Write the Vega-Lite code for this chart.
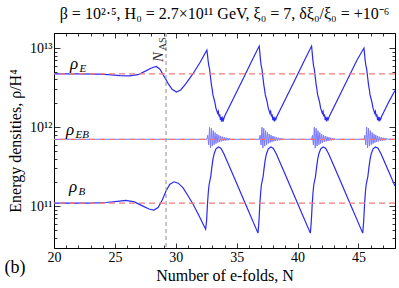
{
"$schema":"https://vega.github.io/schema/vega-lite/v6.json",
"width":341,"height":215,
"autosize":{"type":"none"},
"padding":{"left":54,"top":33,"right":4,"bottom":40},
"config":{"view":{"stroke":"#000","strokeWidth":1},"font":"Liberation Serif",
 "axis":{"domain":false,"grid":false,"tickColor":"#000","tickWidth":0.8,"labelFont":"Liberation Serif","labelFontSize":14,"labelColor":"#000","titleFont":"Liberation Serif","titleFontSize":16,"titleFontWeight":"normal","titleColor":"#000","labelOverlap":false,"labelFlush":false}},
"title":{"text":"β = 10²·⁵,  H₀ = 2.7×10¹¹ GeV,  ξ₀ = 7,  δξ₀/ξ₀ = +10⁻⁶","font":"Liberation Serif","fontSize":16,"fontWeight":"normal","color":"#000","offset":10,"anchor":"middle"},
"resolve":{"axis":{"x":"independent","y":"independent"}},
"datasets":{
"rhoE":[{"N":20,"v":4.7e12},{"N":22,"v":4.7e12},{"N":23.5,"v":4.68e12},{"N":24.5,"v":4.6e12},{"N":25.4,"v":4.48e12},{"N":26.2,"v":4.45e12},{"N":26.9,"v":4.6e12},{"N":27.5,"v":5.1e12},{"N":28.0,"v":5.6e12},{"N":28.4,"v":5.85e12},{"N":28.7,"v":5.4e12},{"N":29.0,"v":4.5e12},{"N":29.4,"v":3.5e12},{"N":29.7,"v":3.0e12},{"N":30.05,"v":2.78e12},{"N":30.4,"v":2.95e12},{"N":30.8,"v":3.5e12},{"N":31.4,"v":4.7e12},{"N":32.0,"v":6.6e12},{"N":32.55,"v":9.4e12},
{"N":32.60,"v":8.3e12},{"N":32.65,"v":7.0e12},{"N":32.71,"v":6.0e12},{"N":32.77,"v":5.5e12},{"N":32.85,"v":4.3e12},{"N":32.93,"v":3.4e12},{"N":32.99,"v":3.0e12},{"N":33.05,"v":2.55e12},{"N":33.13,"v":2.3e12},{"N":33.21,"v":2.05e12},{"N":33.29,"v":1.75e12},{"N":33.37,"v":1.6e12},{"N":33.43,"v":1.5e12},{"N":33.49,"v":1.58e12},{"N":33.55,"v":1.36e12},{"N":33.61,"v":1.45e12},{"N":33.67,"v":1.22e12},{"N":33.73,"v":1.35e12},{"N":33.79,"v":1.16e12},{"N":33.85,"v":1.3e12},{"N":33.91,"v":1.22e12},{"N":33.99,"v":1.35e12},{"N":34.75,"v":2.33e12},{"N":35.55,"v":4.15e12},{"N":36.25,"v":6.9e12},{"N":36.85,"v":1.06e13},
{"N":36.90,"v":8.8e12},{"N":36.95,"v":7.2e12},{"N":37.01,"v":6.0e12},{"N":37.07,"v":5.5e12},{"N":37.15,"v":4.3e12},{"N":37.23,"v":3.4e12},{"N":37.29,"v":3.0e12},{"N":37.35,"v":2.55e12},{"N":37.43,"v":2.3e12},{"N":37.51,"v":2.05e12},{"N":37.59,"v":1.75e12},{"N":37.67,"v":1.6e12},{"N":37.73,"v":1.5e12},{"N":37.79,"v":1.58e12},{"N":37.85,"v":1.36e12},{"N":37.91,"v":1.45e12},{"N":37.97,"v":1.22e12},{"N":38.03,"v":1.35e12},{"N":38.09,"v":1.18e12},{"N":38.15,"v":1.3e12},{"N":38.21,"v":1.24e12},{"N":38.29,"v":1.35e12},{"N":39.05,"v":2.33e12},{"N":39.85,"v":4.15e12},{"N":40.55,"v":6.9e12},{"N":41.15,"v":1.06e13},
{"N":41.20,"v":8.8e12},{"N":41.25,"v":7.2e12},{"N":41.31,"v":6.0e12},{"N":41.37,"v":5.5e12},{"N":41.45,"v":4.3e12},{"N":41.53,"v":3.4e12},{"N":41.59,"v":3.0e12},{"N":41.65,"v":2.55e12},{"N":41.73,"v":2.3e12},{"N":41.81,"v":2.05e12},{"N":41.89,"v":1.75e12},{"N":41.97,"v":1.6e12},{"N":42.03,"v":1.5e12},{"N":42.09,"v":1.58e12},{"N":42.15,"v":1.36e12},{"N":42.21,"v":1.45e12},{"N":42.27,"v":1.22e12},{"N":42.33,"v":1.35e12},{"N":42.39,"v":1.18e12},{"N":42.45,"v":1.3e12},{"N":42.51,"v":1.24e12},{"N":42.59,"v":1.35e12},{"N":43.35,"v":2.33e12},{"N":44.15,"v":4.15e12},{"N":44.85,"v":6.9e12},{"N":45.45,"v":1.0e13},
{"N":45.50,"v":8.5e12},{"N":45.55,"v":7.0e12},{"N":45.61,"v":6.0e12},{"N":45.67,"v":5.5e12},{"N":45.75,"v":4.3e12},{"N":45.83,"v":3.4e12},{"N":45.89,"v":3.0e12},{"N":45.95,"v":2.55e12},{"N":46.03,"v":2.3e12},{"N":46.11,"v":2.05e12},{"N":46.19,"v":1.75e12},{"N":46.27,"v":1.6e12},{"N":46.33,"v":1.5e12},{"N":46.39,"v":1.58e12},{"N":46.45,"v":1.36e12},{"N":46.51,"v":1.45e12},{"N":46.57,"v":1.22e12},{"N":46.63,"v":1.35e12},{"N":46.69,"v":1.18e12},{"N":46.75,"v":1.3e12},{"N":46.81,"v":1.24e12},{"N":46.89,"v":1.35e12},{"N":47.5,"v":2.1e12},{"N":48,"v":2.9e12}],
"rhoB":[{"N":20,"v":1.09e11},{"N":23,"v":1.09e11},{"N":24.3,"v":1.11e11},{"N":25.2,"v":1.15e11},{"N":25.9,"v":1.18e11},{"N":26.6,"v":1.13e11},{"N":27.3,"v":1.0e11},{"N":27.8,"v":9.2e10},{"N":28.2,"v":8.9e10},{"N":28.55,"v":9.6e10},{"N":28.9,"v":1.2e11},{"N":29.2,"v":1.55e11},{"N":29.5,"v":1.88e11},{"N":29.85,"v":2.03e11},{"N":30.2,"v":1.95e11},{"N":30.6,"v":1.7e11},{"N":31.0,"v":1.35e11},{"N":31.4,"v":1.07e11},{"N":31.9,"v":7.6e10},{"N":32.45,"v":5.1e10},
{"N":32.53,"v":6.5e10},{"N":32.60,"v":1.05e11},{"N":32.67,"v":1.5e11},{"N":32.73,"v":1.85e11},{"N":32.80,"v":2.1e11},{"N":32.87,"v":2.35e11},{"N":32.95,"v":3.0e11},{"N":33.05,"v":3.9e11},{"N":33.15,"v":4.6e11},{"N":33.30,"v":5.3e11},{"N":33.50,"v":5.6e11},{"N":33.70,"v":5.4e11},{"N":33.95,"v":4.6e11},{"N":34.75,"v":2.38e11},{"N":35.75,"v":1.04e11},{"N":36.75,"v":4.55e10},
{"N":36.83,"v":6.5e10},{"N":36.90,"v":1.05e11},{"N":36.97,"v":1.5e11},{"N":37.03,"v":1.85e11},{"N":37.10,"v":2.1e11},{"N":37.17,"v":2.35e11},{"N":37.25,"v":3.0e11},{"N":37.35,"v":3.9e11},{"N":37.45,"v":4.6e11},{"N":37.60,"v":5.3e11},{"N":37.80,"v":5.6e11},{"N":38.00,"v":5.4e11},{"N":38.25,"v":4.6e11},{"N":39.05,"v":2.38e11},{"N":40.05,"v":1.04e11},{"N":41.05,"v":4.55e10},
{"N":41.13,"v":6.5e10},{"N":41.20,"v":1.05e11},{"N":41.27,"v":1.5e11},{"N":41.33,"v":1.85e11},{"N":41.40,"v":2.1e11},{"N":41.47,"v":2.35e11},{"N":41.55,"v":3.0e11},{"N":41.65,"v":3.9e11},{"N":41.75,"v":4.6e11},{"N":41.90,"v":5.3e11},{"N":42.10,"v":5.6e11},{"N":42.30,"v":5.4e11},{"N":42.55,"v":4.6e11},{"N":43.35,"v":2.38e11},{"N":44.35,"v":1.04e11},{"N":45.35,"v":4.55e10},
{"N":45.43,"v":6.5e10},{"N":45.50,"v":1.05e11},{"N":45.57,"v":1.5e11},{"N":45.63,"v":1.85e11},{"N":45.70,"v":2.1e11},{"N":45.77,"v":2.35e11},{"N":45.85,"v":3.0e11},{"N":45.95,"v":3.9e11},{"N":46.05,"v":4.6e11},{"N":46.20,"v":5.3e11},{"N":46.40,"v":5.6e11},{"N":46.60,"v":5.4e11},{"N":46.85,"v":4.6e11},{"N":47.5,"v":2.7e11},{"N":48,"v":1.8e11}],
"rhoEB":[{"N":20,"v":7.0e11},{"N":32.55,"v":7.0e11},
{"N":32.625,"v":7.88e11},{"N":32.70,"v":5.94e11},{"N":32.775,"v":9.95e11},{"N":32.85,"v":5.43e11},{"N":32.925,"v":9.64e11},{"N":33.00,"v":5.74e11},{"N":33.075,"v":9.0e11},{"N":33.15,"v":5.98e11},{"N":33.225,"v":8.53e11},{"N":33.30,"v":6.18e11},{"N":33.375,"v":8.18e11},{"N":33.45,"v":6.36e11},{"N":33.525,"v":7.92e11},{"N":33.60,"v":6.49e11},{"N":33.675,"v":7.71e11},{"N":33.75,"v":6.6e11},{"N":33.825,"v":7.55e11},{"N":33.90,"v":6.67e11},{"N":33.975,"v":7.43e11},{"N":34.05,"v":6.74e11},{"N":34.125,"v":7.33e11},{"N":34.20,"v":6.79e11},{"N":34.275,"v":7.26e11},{"N":34.35,"v":6.83e11},{"N":34.425,"v":7.21e11},{"N":34.50,"v":7.0e11},
{"N":36.85,"v":7.0e11},
{"N":36.925,"v":7.88e11},{"N":37.00,"v":5.94e11},{"N":37.075,"v":9.95e11},{"N":37.15,"v":5.43e11},{"N":37.225,"v":9.64e11},{"N":37.30,"v":5.74e11},{"N":37.375,"v":9.0e11},{"N":37.45,"v":5.98e11},{"N":37.525,"v":8.53e11},{"N":37.60,"v":6.18e11},{"N":37.675,"v":8.18e11},{"N":37.75,"v":6.36e11},{"N":37.825,"v":7.92e11},{"N":37.90,"v":6.49e11},{"N":37.975,"v":7.71e11},{"N":38.05,"v":6.6e11},{"N":38.125,"v":7.55e11},{"N":38.20,"v":6.67e11},{"N":38.275,"v":7.43e11},{"N":38.35,"v":6.74e11},{"N":38.425,"v":7.33e11},{"N":38.50,"v":6.79e11},{"N":38.575,"v":7.26e11},{"N":38.65,"v":6.83e11},{"N":38.725,"v":7.21e11},{"N":38.80,"v":7.0e11},
{"N":41.15,"v":7.0e11},
{"N":41.225,"v":7.88e11},{"N":41.30,"v":5.94e11},{"N":41.375,"v":9.95e11},{"N":41.45,"v":5.43e11},{"N":41.525,"v":9.64e11},{"N":41.60,"v":5.74e11},{"N":41.675,"v":9.0e11},{"N":41.75,"v":5.98e11},{"N":41.825,"v":8.53e11},{"N":41.90,"v":6.18e11},{"N":41.975,"v":8.18e11},{"N":42.05,"v":6.36e11},{"N":42.125,"v":7.92e11},{"N":42.20,"v":6.49e11},{"N":42.275,"v":7.71e11},{"N":42.35,"v":6.6e11},{"N":42.425,"v":7.55e11},{"N":42.50,"v":6.67e11},{"N":42.575,"v":7.43e11},{"N":42.65,"v":6.74e11},{"N":42.725,"v":7.33e11},{"N":42.80,"v":6.79e11},{"N":42.875,"v":7.26e11},{"N":42.95,"v":6.83e11},{"N":43.025,"v":7.21e11},{"N":43.10,"v":7.0e11},
{"N":45.45,"v":7.0e11},
{"N":45.525,"v":7.88e11},{"N":45.60,"v":5.94e11},{"N":45.675,"v":9.95e11},{"N":45.75,"v":5.43e11},{"N":45.825,"v":9.64e11},{"N":45.90,"v":5.74e11},{"N":45.975,"v":9.0e11},{"N":46.05,"v":5.98e11},{"N":46.125,"v":8.53e11},{"N":46.20,"v":6.18e11},{"N":46.275,"v":8.18e11},{"N":46.35,"v":6.36e11},{"N":46.425,"v":7.92e11},{"N":46.50,"v":6.49e11},{"N":46.575,"v":7.71e11},{"N":46.65,"v":6.6e11},{"N":46.725,"v":7.55e11},{"N":46.80,"v":6.67e11},{"N":46.875,"v":7.43e11},{"N":46.95,"v":6.74e11},{"N":47.025,"v":7.33e11},{"N":47.10,"v":6.79e11},{"N":47.175,"v":7.26e11},{"N":47.25,"v":6.83e11},{"N":47.325,"v":7.21e11},{"N":47.40,"v":7.0e11},
{"N":48,"v":7.0e11}],
"refs":[{"v":4.7e12},{"v":7.0e11},{"v":1.09e11}],
"nas":[{"N":29.2}],
"labels":[{"N":21.31,"v":5.42e12,"t":"ρ","sub":"E"},{"N":20.99,"v":7.93e11,"t":"ρ","sub":"EB"},{"N":21.23,"v":1.5e11,"t":"ρ","sub":"B"}],
"naslabel":[{"N":28.95,"v":6.65e12,"t":"N","sub":"AS"}],
"tag":[{"N":16.8,"v":1.64e10,"t":"(b)"}]
},
"layer":[
{"data":{"name":"rhoEB"},"mark":{"type":"line","color":"#7a7aff","strokeWidth":1,"clip":true},
 "encoding":{
  "x":{"field":"N","type":"quantitative","scale":{"domain":[20,48],"nice":false,"zero":false},
   "axis":{"orient":"top","values":[20,21,22,23,24,25,26,27,28,29,30,31,32,33,34,35,36,37,38,39,40,41,42,43,44,45,46,47,48],"labels":false,"title":null,"tickSize":{"condition":{"test":"datum.value % 5 == 0","value":-5},"value":-3}}},
  "y":{"field":"v","type":"quantitative","scale":{"type":"log","domain":[2.95e10,1.55e13],"nice":false},
   "axis":{"orient":"right","values":[4e10,5e10,6e10,7e10,8e10,9e10,1e11,2e11,3e11,4e11,5e11,6e11,7e11,8e11,9e11,1e12,2e12,3e12,4e12,5e12,6e12,7e12,8e12,9e12,1e13],"labels":false,"title":null,"tickSize":{"condition":{"test":"datum.value == 1e11 || datum.value == 1e12 || datum.value == 1e13","value":-6},"value":-3}}}}},
{"data":{"name":"rhoE"},"mark":{"type":"line","color":"#2a2af2","strokeWidth":1.2,"clip":true},
 "encoding":{
  "x":{"field":"N","type":"quantitative","scale":{"domain":[20,48],"nice":false,"zero":false},
   "axis":{"orient":"bottom","values":[20,21,22,23,24,25,26,27,28,29,30,31,32,33,34,35,36,37,38,39,40,41,42,43,44,45,46,47,48],"labelExpr":"datum.value % 5 == 0 ? datum.label : ''","tickSize":{"condition":{"test":"datum.value % 5 == 0","value":-5},"value":-3},"labelPadding":7,"title":"Number of e-folds, N","titlePadding":1}},
  "y":{"field":"v","type":"quantitative","scale":{"type":"log","domain":[2.95e10,1.55e13],"nice":false},
   "axis":{"orient":"left","values":[4e10,5e10,6e10,7e10,8e10,9e10,1e11,2e11,3e11,4e11,5e11,6e11,7e11,8e11,9e11,1e12,2e12,3e12,4e12,5e12,6e12,7e12,8e12,9e12,1e13],"labelExpr":"datum.value == 1e11 ? '10¹¹' : datum.value == 1e12 ? '10¹²' : datum.value == 1e13 ? '10¹³' : ''","tickSize":{"condition":{"test":"datum.value == 1e11 || datum.value == 1e12 || datum.value == 1e13","value":-6},"value":-3},"labelPadding":8,"title":"Energy densities, ρ/H⁴","titlePadding":6}}}},
{"data":{"name":"rhoB"},"mark":{"type":"line","color":"#2a2af2","strokeWidth":1.2,"clip":true},
 "encoding":{
  "x":{"field":"N","type":"quantitative","scale":{"domain":[20,48],"nice":false,"zero":false},"axis":null},
  "y":{"field":"v","type":"quantitative","scale":{"type":"log","domain":[2.95e10,1.55e13],"nice":false},"axis":null}}},
{"data":{"name":"refs"},"mark":{"type":"rule","color":"#f07a7a","strokeWidth":1.3,"strokeDash":[6,4]},
 "encoding":{"y":{"field":"v","type":"quantitative","scale":{"type":"log","domain":[2.95e10,1.55e13],"nice":false},"axis":null}}},
{"data":{"name":"nas"},"mark":{"type":"rule","color":"#a0a0a0","strokeWidth":1.2,"strokeDash":[4,3]},
 "encoding":{"x":{"field":"N","type":"quantitative","scale":{"domain":[20,48],"nice":false,"zero":false},"axis":null}}},
{"data":{"name":"labels"},"mark":{"type":"text","align":"left","baseline":"alphabetic","fontSize":17,"fontStyle":"italic","font":"Liberation Serif","color":"#000"},
 "encoding":{"x":{"field":"N","type":"quantitative","scale":{"domain":[20,48],"nice":false,"zero":false},"axis":null},
  "y":{"field":"v","type":"quantitative","scale":{"type":"log","domain":[2.95e10,1.55e13],"nice":false},"axis":null},
  "text":{"field":"t"}}},
{"data":{"name":"labels"},"mark":{"type":"text","align":"left","baseline":"alphabetic","fontSize":11,"fontStyle":"italic","font":"Liberation Serif","color":"#000","dx":9.5,"dy":3},
 "encoding":{"x":{"field":"N","type":"quantitative","scale":{"domain":[20,48],"nice":false,"zero":false},"axis":null},
  "y":{"field":"v","type":"quantitative","scale":{"type":"log","domain":[2.95e10,1.55e13],"nice":false},"axis":null},
  "text":{"field":"sub"}}},
{"data":{"name":"naslabel"},"mark":{"type":"text","align":"left","baseline":"alphabetic","angle":270,"fontSize":15,"fontStyle":"italic","font":"Liberation Serif","color":"#333"},
 "encoding":{"x":{"field":"N","type":"quantitative","scale":{"domain":[20,48],"nice":false,"zero":false},"axis":null},
  "y":{"field":"v","type":"quantitative","scale":{"type":"log","domain":[2.95e10,1.55e13],"nice":false},"axis":null},
  "text":{"field":"t"}}},
{"data":{"name":"naslabel"},"mark":{"type":"text","align":"left","baseline":"alphabetic","angle":270,"fontSize":10.5,"font":"Liberation Serif","color":"#333","dx":11.5,"dy":3},
 "encoding":{"x":{"field":"N","type":"quantitative","scale":{"domain":[20,48],"nice":false,"zero":false},"axis":null},
  "y":{"field":"v","type":"quantitative","scale":{"type":"log","domain":[2.95e10,1.55e13],"nice":false},"axis":null},
  "text":{"field":"sub"}}},
{"data":{"name":"tag"},"mark":{"type":"text","align":"center","baseline":"middle","fontSize":18,"font":"Liberation Serif","color":"#000"},
 "encoding":{"x":{"field":"N","type":"quantitative","scale":{"domain":[20,48],"nice":false,"zero":false},"axis":null},
  "y":{"field":"v","type":"quantitative","scale":{"type":"log","domain":[2.95e10,1.55e13],"nice":false},"axis":null},
  "text":{"field":"t"}}}
]
}
